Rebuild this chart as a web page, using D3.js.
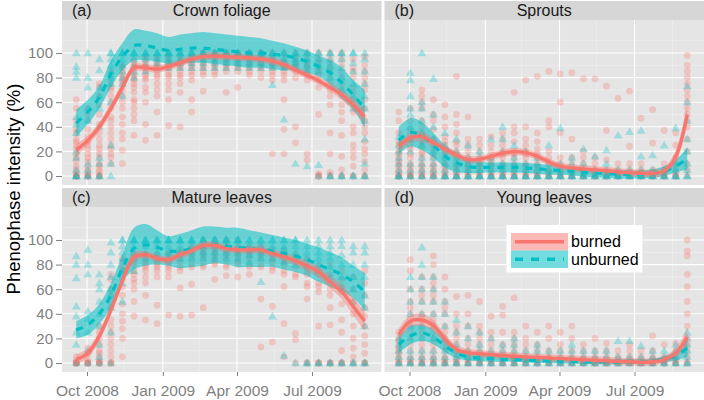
<!DOCTYPE html>
<html><head><meta charset="utf-8">
<script src="https://cdn.jsdelivr.net/npm/d3@7"></script>
<style>body{margin:0;background:#fff} svg{display:block}</style>
</head><body><svg id="c" width="704" height="400"></svg>
<script>
// ---------- data ----------
const dates = ["2008-09-18","2008-10-02","2008-10-16","2008-10-30","2008-11-13","2008-11-27","2008-12-11","2008-12-25",
"2009-01-08","2009-01-22","2009-02-05","2009-02-19","2009-03-05","2009-03-19","2009-04-02","2009-04-16","2009-04-30",
"2009-05-14","2009-05-28","2009-06-11","2009-06-25","2009-07-09","2009-07-23","2009-08-06","2009-08-20","2009-09-03"];
const xTickDates = ["2008-10-01","2009-01-01","2009-04-01","2009-07-01"];
const xTickLabels = ["Oct 2008","Jan 2009","Apr 2009","Jul 2009"];
const xMinorDates = ["2008-11-15","2009-02-14","2009-05-16","2009-08-16"];
const yTicks = [0,20,40,60,80,100];
const yMinor = [10,30,50,70,90,110];
const panelTags = ["(a)","(b)","(c)","(d)"];
const panelTitles = ["Crown foliage","Sprouts","Mature leaves","Young leaves"];
const groups = ["burned","unburned"];

// observations (one list of values per date)
const crownBurned = [[0,0,0,0,0,3,5,8,12,15,18,22,25,28,30,35,38,45,55,62],[0,0,0,0,3,5,8,12,15,18,22,25,28,32,38,45,50,55],
[0,0,0,3,5,8,10,15,18,22,25,30,35,42,50,58,65,72,75],[10,15,18,22,25,30,35,40,45,48,55,60,65,70,72,75,80,85],
[10,21,30,35,42,48,55,60,65,70,75,78,80,82,85,88,90],[33,45,50,55,60,62,68,72,75,78,80,82,85,88,90,92,95],
[29,42,60,68,72,78,80,82,85,88,90,92,95,97],[33,52,65,70,75,80,82,85,88,90,92,95,97],[41,62,70,75,80,82,85,88,90,92,95,97,100],
[40,68,75,80,82,85,88,90,92,95,97,100],[52,62,78,82,85,88,90,92,95,97,100],[69,82,85,88,90,92,95,97,100,100],
[82,85,88,90,92,95,97,100,100],[68,85,88,90,92,95,97,100,100],[72,85,88,90,92,95,97,100,100],[82,85,88,90,92,95,97,100,100],
[80,85,88,90,92,95,97,100,100],[18,78,82,85,88,90,92,95,97,100],[18,38,62,78,82,85,88,90,92,95,100],[27,40,80,85,88,90,92,95,97,100],
[13,18,78,82,85,88,90,92,95,100],[0,0,0,2,50,72,78,82,85,88,92,95,100],[0,0,3,18,35,58,65,70,75,80,85,88,92,95,100],
[0,0,5,16,33,45,52,58,65,70,75,80,85,90,95,100],[0,0,8,15,20,25,35,40,52,62,68,72,80,85,88,95],
[0,0,5,12,18,22,28,35,40,45,55,62,70,75,80,85,90,97]];
const crownUnburned = [[0,0,0,5,15,20,35,42,48,80,85,89,100],[0,0,5,10,45,55,72,80,100],[0,0,10,15,40,55,65,72,86,95],
[0,10,25,60,75,80,85,90,95,100,100],[65,75,80,85,90,95,100,100,100],[80,85,90,95,100,100,100],[85,90,95,100,100,100],
[88,92,95,100,100,100],[88,92,95,100,100,100],[88,92,95,100,100,100],[88,92,95,100,100,100],[88,92,95,100,100,100],
[88,92,95,100,100,100],[88,92,95,100,100,100],[88,92,95,100,100,100],[88,92,95,100,100,100],[88,92,95,100,100,100],
[74,88,92,95,100,100],[46,88,92,95,100,100],[10,88,92,95,100,100],[8,85,90,95,100,100],[0,9,85,90,95,100,100],
[0,0,80,85,90,95,100,100],[0,0,70,80,88,95,100,100],[0,0,55,65,75,85,92,100,100],[0,0,10,30,45,55,65,75,85,95,100]];
const sproutBurned = [[0,0,0,0,3,5,8,10,12,15,18,20,25,28,35,45,52],[0,0,0,0,3,5,8,10,15,18,22,25,30,35,38,45,55],
[0,0,0,3,5,8,10,15,18,20,25,28,35,40,45,55,60,65,70],[0,0,0,3,5,8,10,15,18,22,25,30,38,45,50,62],
[0,0,0,3,5,8,10,15,18,20,25,28,32,40,48,58],[0,0,0,3,5,8,10,15,18,20,25,28,35,42,50,81],[0,0,0,3,5,8,10,12,15,20,25,30,48],
[0,0,0,3,5,8,10,12,15,20,25,30],[0,0,0,3,5,8,10,12,15,20,25,32],[0,0,0,3,5,8,10,15,18,20,25,30,35],
[0,0,0,3,5,8,10,15,18,20,28,35,40,68],[0,0,0,3,5,8,10,15,18,20,25,30,40,78],[0,0,0,3,5,8,10,15,18,22,28,35,81],
[0,0,0,3,5,10,15,20,40,45,85],[0,0,0,3,5,10,15,35,60,83],[0,0,0,3,5,10,15,30,84],[0,0,0,3,5,10,15,20,79],
[0,0,0,3,5,10,15,79],[0,0,0,3,5,13,37,73],[0,0,0,3,5,10,63],[0,0,0,3,5,10,24,69],[0,0,0,3,5,10,47],[0,0,0,3,5,27,54],
[0,0,0,3,5,10,37],[0,0,0,3,5,10,15,25,35],[0,5,10,20,30,40,45,50,55,60,65,70,75,80,85,90,98]];
const sproutUnburned = [[0,0,0,5,10,15,20,25,32],[0,0,5,10,20,30,40,50,55,65,78,84],[0,0,5,10,15,25,35,45,55,60,100],
[0,0,5,10,15,20,30,40,50,79],[0,0,0,5,10,15,25,35],[0,0,0,5,10,15,20,30],[0,0,0,5,10,15,25],[0,0,0,5,10,15,20],
[0,0,0,5,10,15,30],[0,0,0,5,10,20,30,40],[0,0,0,5,10,15,25],[0,0,0,5,10,20],[0,0,0,5,10,15],[0,0,0,5,10,25],
[0,0,0,5,10,39],[0,0,0,5,10,15],[0,0,0,5,10,22],[0,0,0,5,16],[0,0,0,5,10,21],[0,0,0,5,33],[0,0,0,5,36],
[0,0,0,5,16,37],[0,0,0,5,17],[0,0,0,5,25],[0,0,0,5,10,39],[0,0,5,10,20,30,45,60,73]];
const matureBurned = [[0,0,0,0,0,0,2,5],[0,0,0,0,0,3,8,12],[0,0,0,0,2,5,8,10,15,20,25,30],
[0,0,0,5,10,15,20,25,30,35,45,50,55,60,68,72],[5,20,28,34,40,48,55,62,68,72,75,78,82,85],[38,50,60,65,68,72,75,80,82,85,88],
[35,55,65,70,75,78,80,82,85,88],[32,47,70,75,78,80,82,85,88],[39,70,75,78,80,82,85,88,90],[38,61,75,78,82,85,88,90,92],
[39,64,78,80,85,88,90,92,95],[45,78,80,85,88,90,92,95,100],[68,80,82,85,88,90,92,95,100],[71,78,80,85,88,90,92,95,100],
[70,80,82,85,88,90,92,95,100],[72,78,80,85,88,90,92,95],[13,52,78,80,85,88,90,92,95],[17,46,75,78,82,85,88,90,92],
[5,32,62,72,75,80,82,85,88,92],[0,19,24,70,72,78,82,85,88],[0,0,52,62,65,72,75,78,85],[0,0,0,30,58,62,65,72,75,80],
[0,0,0,31,45,55,60,65,72,80],[0,0,0,10,25,35,48,58,62,68,75],[0,0,5,12,20,30,40,50,60,70],[0,0,0,8,15,22,30,38,45,55,65,75]];
const matureUnburned = [[0,15,25,38,46,69,80,87],[0,10,25,36,42,72,80,92],[0,5,15,30,40,50,60,65,72],[0,25,45,55,60,70,80,90,98],
[50,65,75,85,90,95,100,100],[75,85,90,95,100,100,100],[85,90,95,100,100,100],[85,90,95,100,100,100],[85,90,95,100,100,100],
[85,90,95,100,100,100],[85,90,95,100,100,100],[85,90,95,100,100,100],[85,90,95,100,100,100],[85,90,95,100,100,100],
[85,90,95,100,100,100],[82,88,92,95,100,100],[66,85,90,95,100,100],[38,85,90,95,100,100],[6,82,88,92,95,100,100],
[0,80,85,90,95,100,100],[0,0,80,85,90,95,100],[0,0,75,80,85,90,95,100],[0,0,70,78,85,90,95,100],[0,0,60,70,80,88,95,100],
[0,0,50,60,70,80,90,95],[0,0,30,45,55,70,80,90,95]];
const youngBurned = [[0,0,0,3,5,8,10,12,15,18,20,25],[0,0,0,3,5,10,15,20,25,30,35,40,45,50,60,75,84],
[0,0,0,3,5,10,15,20,25,30,35,40,50,55,60,70],[0,0,0,3,5,10,15,20,25,30,35,40,50,55,60,65,70,80,87],
[0,0,0,3,5,10,15,20,25,30,40,45,50,60,70],[0,0,0,3,5,10,15,20,25,30,40,54],[0,0,0,3,5,10,15,20,30,40,55],
[0,0,0,3,5,10,15,20,25,30,50],[0,0,0,3,5,10,15,20,25,38],[0,0,0,3,5,10,15,25,39,46],[0,0,0,3,5,10,15,20,25,53],
[0,0,0,3,5,10,15,20,30],[0,0,0,3,5,10,15,25],[0,0,0,3,5,10,20,30],[0,0,0,3,5,10,15,25],[0,0,0,3,5,10,20,30],
[0,0,0,3,5,10,15],[0,0,0,3,5,10,20],[0,0,0,3,5,10,16],[0,0,0,3,5,10],[0,0,0,3,5,10,15],[0,0,0,3,5,10],
[0,0,0,3,5,10,22],[0,0,0,3,5,15],[0,0,0,3,5,10,16],[0,0,5,10,15,20,30,40,50,62,72,87,91,100]];
const youngUnburned = [[0,0,5,10,15,20],[0,0,5,10,20,30,40,50,60,70],[0,0,5,10,20,30,40,50,60,70,80,94],[0,0,5,10,20,30,40,50,60,70],
[0,0,5,10,20,30,40,50],[0,0,5,10,15,25,35],[0,0,5,10,20,30],[0,0,5,10,15,25],[0,0,5,10,20],[0,0,5,10,15],[0,0,5,10,15,20],
[0,0,5,10],[0,0,5,10,15],[0,0,5,10],[0,0,5,10],[0,0,5,10,15],[0,0,5,10],[0,0,5,10],[0,0,5,10],[0,0,5,18],[0,0,5,18],
[0,0,5,14],[0,0,5,10],[0,0,5,10],[0,0,5,10,15],[0,0,5,10,15,20,25]];

// smoothed fits with confidence band
const fitCrownBurned = [21,29,40,55,72,88,88,87,89,92,95,97,97.5,97,96.5,96,95,93.5,90.5,86,82,77.5,72,66,58,48];
const loCrownBurned  = [16,25,36,51,68,85,85,84,86,89,92,94,94.5,94,93.5,93,92,90.5,87.5,83,79,74.5,68.5,62,53,42];
const hiCrownBurned  = [26,33,44,59,76,91,91,90,92,95,98,100,100.5,100,99.5,99,98,96.5,93.5,89,85,80.5,75.5,70,63,54];
const fitCrownUnburned = [43,52,64,83,97,106,106,104,102,103,104,104,103,102,101,100,100,99,98,96,93,89,84,76,66,55];
const loCrownUnburned  = [32,42,55,72,86,94,94,93,91,91,92,92,91,90,89,88,88,87,86,86,84,81,74,63,54,39];
const hiCrownUnburned  = [54,62,73,94,108,119,118,116,113,115,116,117,116,115,114,113,112,110,108,105,102,98,94,88,78,70];
const fitSproutBurned = [24,31,32,27,22,17,13.5,13.5,16,18.5,19.8,19,16,11.5,8,6.5,5.7,5,4.3,3.4,2.7,2.2,2.2,4,15.7,50];
const loSproutBurned  = [19,27,28,23.5,19,14,10.5,10.5,13,15.5,16.8,16,13,8.5,5,3.5,2.7,2,1.3,0.4,-0.3,-0.8,-0.8,0.5,10.5,41];
const hiSproutBurned  = [29,35,36,30.5,25,20,16.5,16.5,19,21.5,22.8,22,19,14.5,11,9.5,8.7,8,7.3,6.4,5.7,5.2,5.2,7.5,21,59];
const fitSproutUnburned = [29,35.5,32.5,25,16,11,7.7,7,7,7,7,6.5,6,5,4.5,4,3,2.5,2,1.5,1.2,1.2,2,4,8,14];
const loSproutUnburned  = [18,24,21,15,7,3.3,2.4,2.5,3,3,3,2.5,2,1,1,0.5,-0.5,-1,-1.5,-2,-2,-2,-1.5,0,3,5];
const hiSproutUnburned  = [40,47,44,35,25,18.7,13,11.5,11,11,11,10.5,10,9,8,7.5,6.5,6,5.5,5,4.5,4.5,5.5,8,13,23];
const fitMatureBurned = [3,8,22,43,67,86,88,85,84,88,91.5,95.5,95.5,93,92,92,92,89,86.5,83,79,74,66,58,46,34];
const loMatureBurned  = [-1,4,18,39,63,82,85,82,81,85,88.5,92.5,92.5,90,89,89,89,86,83,79.5,75,69.5,61,52,39,26];
const hiMatureBurned  = [7,12,26,47,71,90,91,88,87,91,94.5,98.5,98.5,96,95,95,95,92,90,86.5,83,78.5,71,64,53,42];
const fitMatureUnburned = [27,31,40,55,77,93,96,94,91,91,93,95,96,95,94,93,92,91,89,87,84,80,76,72,66,58];
const loMatureUnburned  = [20,23,32,45,66,76,79,80,79,77,78,79,81,80,78,78,78,78,76,74,71,66,62,58,53,43];
const hiMatureUnburned  = [34,39,48,65,88,110,113,108,103,105,108,111,111,110,110,108,106,104,102,100,97,94,90,86,79,73];
const fitYoungBurned = [23,34,35,30.5,19.5,11,8.5,7.6,6.8,6.1,5.5,5,4.6,4.1,3.6,3.2,2.7,2.2,1.8,1.3,1,0.6,1,2.8,8,21];
const loYoungBurned  = [18,29,30,26,15.5,7.5,5.5,4.6,3.8,3.1,2.5,2,1.6,1.1,0.6,0.2,-0.3,-0.8,-1.2,-1.7,-2,-2.4,-2,-0.2,4,14];
const hiYoungBurned  = [28,39,40,35,23.5,14.5,11.5,10.6,9.8,9.1,8.5,8,7.6,7.1,6.6,6.2,5.7,5.2,4.8,4.3,4,3.6,4,5.8,12,28];
const fitYoungUnburned = [15,22,24.5,21,14,8,5,4,3.5,3,3,2.5,2,2,1.5,1.5,1,1,1,1,1,1,1.5,3,6,12];
const loYoungUnburned  = [8,15,18,15,9,4,2,1.5,1,1,1,0.5,0,0,-0.5,-0.5,-1,-1,-1,-1,-1,-1,-0.5,0.5,2,5];
const hiYoungUnburned  = [22,30,31,27,19,12,8,6.5,6,5,5,4.5,4,4,3.5,3.5,3,3,3,3,3,3,3.5,5.5,10,19];

// ---------- layout & style ----------
const font = "'Liberation Sans', Arial, Helvetica, sans-serif";
const RED = "#F8766D", TEAL = "#00BFC4";
const cols = [{x:62, w:319.5},{x:384.5, w:319.5}];
const rows = [{sy:1, y:20, h:165},{sy:188, y:207, h:165}];
const stripH = 19;

const parse = d3.utcParse("%Y-%m-%d");
const obs = dates.map(parse);
const xDomain = [Date.UTC(2008,7,31,16), Date.UTC(2009,8,23,8)];
const yDomain = [-7.3, 126.8];

const panels = [
  {i:0, c:0, r:0, pts:[crownBurned, crownUnburned],
   fits:[[fitCrownBurned,loCrownBurned,hiCrownBurned],[fitCrownUnburned,loCrownUnburned,hiCrownUnburned]]},
  {i:1, c:1, r:0, pts:[sproutBurned, sproutUnburned],
   fits:[[fitSproutBurned,loSproutBurned,hiSproutBurned],[fitSproutUnburned,loSproutUnburned,hiSproutUnburned]]},
  {i:2, c:0, r:1, pts:[matureBurned, matureUnburned],
   fits:[[fitMatureBurned,loMatureBurned,hiMatureBurned],[fitMatureUnburned,loMatureUnburned,hiMatureUnburned]]},
  {i:3, c:1, r:1, pts:[youngBurned, youngUnburned],
   fits:[[fitYoungBurned,loYoungBurned,hiYoungBurned],[fitYoungUnburned,loYoungUnburned,hiYoungUnburned]]}
];

const svg = d3.select("#c");
svg.append("rect").attr("width",704).attr("height",400).attr("fill","#fff");
const defs = svg.append("defs");
const tri = d3.symbol().type(d3.symbolTriangle).size(34);

panels.forEach(p => {
  const C = cols[p.c], R = rows[p.r];
  const x = d3.scaleUtc().domain(xDomain).range([C.x, C.x + C.w]);
  const y = d3.scaleLinear().domain(yDomain).range([R.y + R.h, R.y]);
  const g = svg.append("g");

  // strip
  g.append("rect").attr("x",C.x).attr("y",R.sy).attr("width",C.w).attr("height",stripH).attr("fill","#D6D6D6");
  g.append("text").attr("x",C.x+10).attr("y",R.sy+15).attr("font-family",font).attr("font-size",16)
    .attr("fill","#1A1A1A").text(panelTags[p.i]);
  g.append("text").attr("x",C.x+C.w/2).attr("y",R.sy+15).attr("text-anchor","middle").attr("font-family",font)
    .attr("font-size",16).attr("fill","#1A1A1A").text(panelTitles[p.i]);

  // panel background
  g.append("rect").attr("x",C.x).attr("y",R.y).attr("width",C.w).attr("height",R.h).attr("fill","#E5E5E5");
  const clipId = "clip"+p.i;
  defs.append("clipPath").attr("id",clipId).append("rect").attr("x",C.x).attr("y",R.y).attr("width",C.w).attr("height",R.h);
  const pg = g.append("g").attr("clip-path",`url(#${clipId})`);

  // grid
  pg.selectAll(".hmin").data(yMinor).join("line").attr("x1",C.x).attr("x2",C.x+C.w)
    .attr("y1",d=>y(d)).attr("y2",d=>y(d)).attr("stroke","#F2F2F2").attr("stroke-width",0.6);
  pg.selectAll(".vmin").data(xMinorDates.map(parse)).join("line").attr("y1",R.y).attr("y2",R.y+R.h)
    .attr("x1",d=>x(d)).attr("x2",d=>x(d)).attr("stroke","#F2F2F2").attr("stroke-width",0.6);
  pg.selectAll(".hmaj").data(yTicks).join("line").attr("x1",C.x).attr("x2",C.x+C.w)
    .attr("y1",d=>y(d)).attr("y2",d=>y(d)).attr("stroke","#fff").attr("stroke-width",1.1);
  pg.selectAll(".vmaj").data(xTickDates.map(parse)).join("line").attr("y1",R.y).attr("y2",R.y+R.h)
    .attr("x1",d=>x(d)).attr("x2",d=>x(d)).attr("stroke","#fff").attr("stroke-width",1.1);

  // points
  const flat = (arr) => arr.flatMap((vals, k) => vals.map(v => ({d: obs[k], v})));
  pg.append("g").selectAll("circle").data(flat(p.pts[0])).join("circle")
    .attr("cx",d=>x(d.d)).attr("cy",d=>y(d.v)).attr("r",3.4).attr("fill",RED).attr("fill-opacity",0.3);
  pg.append("g").selectAll("path").data(flat(p.pts[1])).join("path")
    .attr("d",tri).attr("transform",d=>`translate(${x(d.d)},${y(d.v)+0.6})`).attr("fill",TEAL).attr("fill-opacity",0.3);

  // ribbons & lines
  const curve = d3.curveCatmullRom.alpha(0.5);
  const fitData = p.fits.map(f => obs.map((d,k)=>({d, fit:f[0][k], lo:f[1][k], hi:f[2][k]})));
  const area = d3.area().x(d=>x(d.d)).y0(d=>y(d.lo)).y1(d=>y(d.hi)).curve(curve);
  const line = d3.line().x(d=>x(d.d)).y(d=>y(d.fit)).curve(curve);
  pg.append("path").attr("d",area(fitData[1])).attr("fill",TEAL).attr("fill-opacity",0.55);
  pg.append("path").attr("d",area(fitData[0])).attr("fill",RED).attr("fill-opacity",0.4);
  pg.append("path").attr("d",line(fitData[1])).attr("fill","none").attr("stroke",TEAL).attr("stroke-width",3.2)
    .attr("stroke-dasharray","7,7");
  pg.append("path").attr("d",line(fitData[0])).attr("fill","none").attr("stroke",RED).attr("stroke-width",3.4);

  // axes
  if (p.c === 0) {
    const ax = g.append("g").attr("transform",`translate(${C.x},0)`)
      .call(d3.axisLeft(y).tickValues(yTicks).tickSize(6).tickPadding(3));
    ax.select(".domain").remove();
    ax.selectAll("line").attr("stroke","#7F7F7F");
    ax.selectAll("text").attr("font-family",font).attr("font-size",15).attr("fill","#7F7F7F");
  }
  if (p.r === 1) {
    const ax = g.append("g").attr("transform",`translate(0,${R.y+R.h})`)
      .call(d3.axisBottom(x).tickValues(xTickDates.map(parse)).tickFormat((d,k)=>xTickLabels[k]).tickSize(4).tickPadding(9));
    ax.select(".domain").remove();
    ax.selectAll("line").attr("stroke","#7F7F7F");
    ax.selectAll("text").attr("font-family",font).attr("font-size",15.5).attr("fill","#7F7F7F");
  }

  // legend in panel (d)
  if (p.i === 3) {
    const lg = g.append("g");
    lg.append("rect").attr("x",506.5).attr("y",225).attr("width",136).attr("height",47.5).attr("fill","#fff");
    groups.forEach((name, k) => {
      const ky = 233 + k*17.5;
      const col = k === 0 ? RED : TEAL;
      lg.append("rect").attr("x",511).attr("y",ky).attr("width",57).attr("height",17.5)
        .attr("fill",col).attr("fill-opacity",k===0?0.5:0.55);
      lg.append("line").attr("x1",515).attr("x2",564).attr("y1",ky+8.75).attr("y2",ky+8.75)
        .attr("stroke",col).attr("stroke-width",3.4).attr("stroke-dasharray",k===0?null:"8,8");
      lg.append("text").attr("x",571).attr("y",ky+14).attr("font-family",font).attr("font-size",16)
        .attr("fill","#000").text(name);
    });
  }
});

// y title
svg.append("text").attr("transform","translate(20,189) rotate(-90)").attr("text-anchor","middle")
  .attr("font-family",font).attr("font-size",18.5).attr("fill","#000").text("Phenophase intensity (%)");
</script></body></html>
